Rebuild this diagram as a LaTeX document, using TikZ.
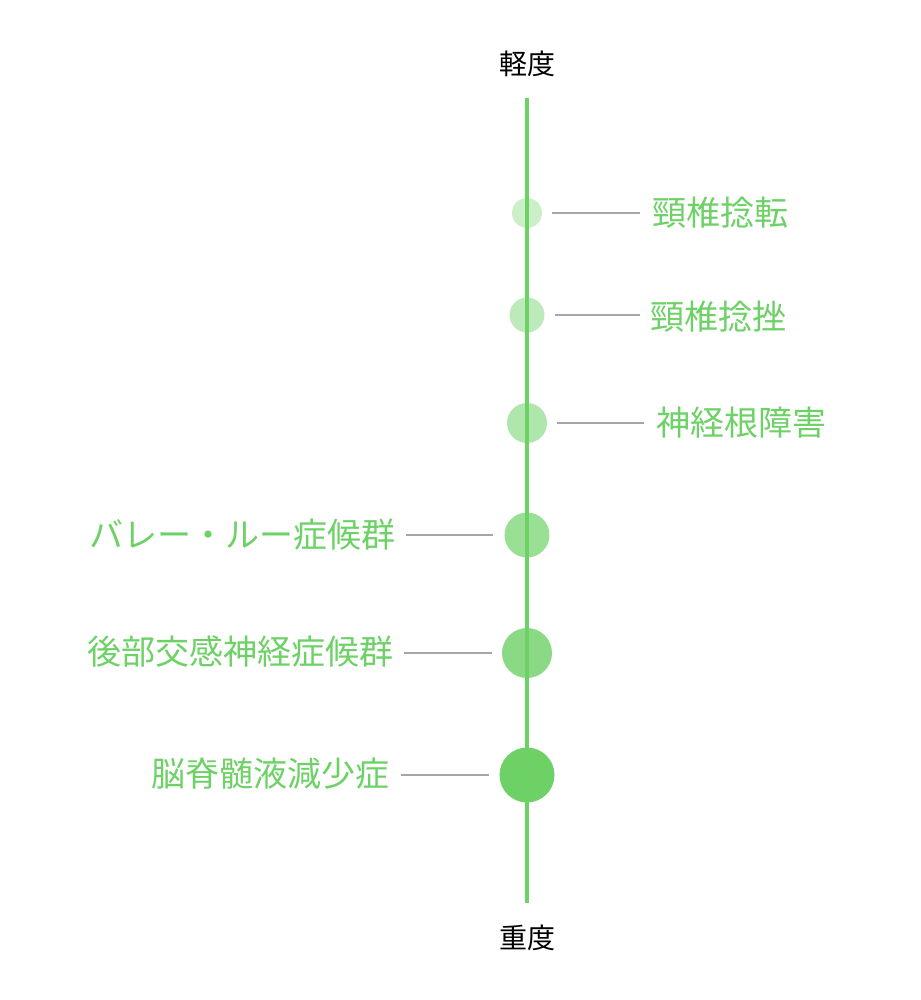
\documentclass[tikz,border=0pt]{standalone}
\usepackage{fontspec}
\setmainfont{Noto Sans CJK JP}
\definecolor{lgreen}{HTML}{6DD166}
\tikzset{
  dot/.style={circle,fill=lgreen,inner sep=0pt},
  lbl/.style={text=lgreen,font=\fontsize{34}{36}\selectfont,inner sep=0pt},
  lead/.style={draw=gray!70,line width=1.2pt},
  ends/.style={font=\fontsize{28}{30}\selectfont,inner sep=0pt}
}
\begin{document}
\begin{tikzpicture}[x=1pt,y=-1pt]
  \useasboundingbox (0,0) rectangle (920,1000);
  \node[ends] (top) at (527,64) {軽度};
  \node[ends] (bot) at (527,938) {重度};
  \coordinate (axtop) at (527,98);
  \coordinate (axbot) at (527,903);
  \draw[lgreen,line width=3.5pt] (axtop) -- (axbot);
  % right side
  \node[dot,opacity=.35,minimum size=30] (d1) at (527,213) {};
  \node[dot,opacity=.45,minimum size=35] (d2) at (527,315) {};
  \node[dot,opacity=.55,minimum size=40] (d3) at (527,423) {};
  \node[lbl,anchor=west] (t1) at (652,213) {頸椎捻転};
  \node[lbl,anchor=west] (t2) at (650,317) {頸椎捻挫};
  \node[lbl,anchor=west] (t3) at (656,423) {神経根障害};
  \draw[lead] ([xshift=10]d1.east) -- ([xshift=-12]d1.east -| t1.west);
  \draw[lead] ([xshift=10]d2.east) -- ([xshift=-10]d2.east -| t2.west);
  \draw[lead] ([xshift=10]d3.east) -- ([xshift=-12]d3.east -| t3.west);
  % left side
  \node[dot,opacity=.7,minimum size=45] (d4) at (527,535) {};
  \node[dot,opacity=.8,minimum size=50] (d5) at (527,653) {};
  \node[dot,minimum size=55] (d6) at (527,775) {};
  \node[lbl,anchor=east] (t4) at (396,535) {バレー・ルー症候群};
  \node[lbl,anchor=east] (t5) at (394,652) {後部交感神経症候群};
  \node[lbl,anchor=east] (t6) at (390,774) {脳脊髄液減少症};
  \draw[lead] ([xshift=-11]d4.west) -- ([xshift=10]d4.west -| t4.east);
  \draw[lead] ([xshift=-10]d5.west) -- ([xshift=10]d5.west -| t5.east);
  \draw[lead] ([xshift=-10]d6.west) -- ([xshift=11]d6.west -| t6.east);
\end{tikzpicture}
\end{document}
